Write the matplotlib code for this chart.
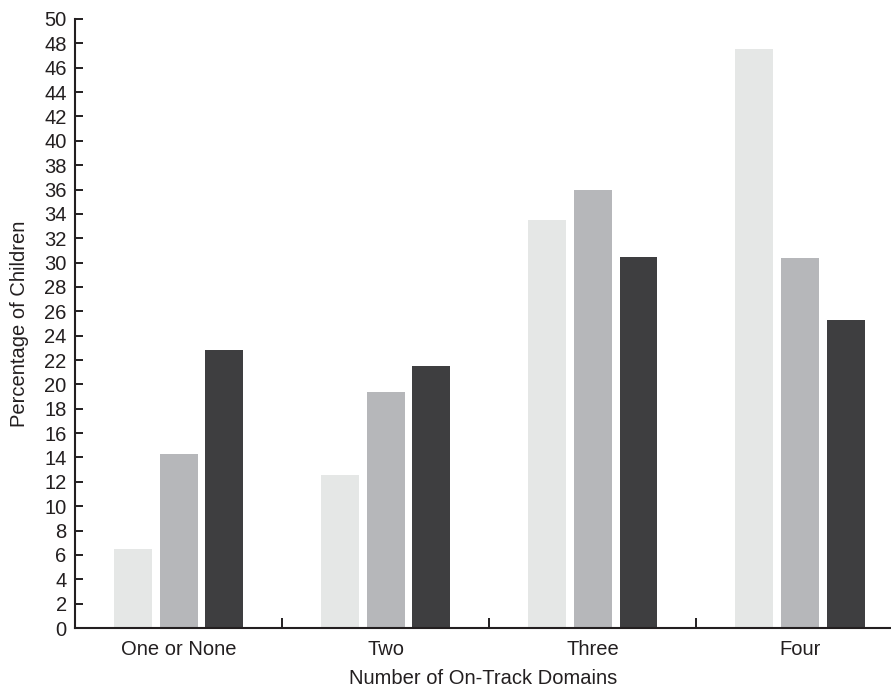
import matplotlib
matplotlib.use("Agg")
import matplotlib.pyplot as plt
import numpy as np

plt.rcParams['font.family'] = ['Liberation Sans', 'DejaVu Sans']

categories = ['One or None', 'Two', 'Three', 'Four']
series_a = [6.5, 12.6, 33.5, 47.5]
series_b = [14.3, 19.4, 36.0, 30.4]
series_c = [22.8, 21.5, 30.5, 25.3]
y_ticks = list(range(0, 51, 2))

colors = ['#e5e7e6', '#b6b7ba', '#3e3e40']
text_color = '#231f20'
fs = 14.5

fig = plt.figure(figsize=(8.91, 6.88), dpi=100)
ax = fig.add_axes([0.0842, 0.0872, 0.9158, 0.8852])

x = np.arange(len(categories))
width = 0.183
step = 0.221
for i, (vals, col) in enumerate(zip([series_a, series_b, series_c], colors)):
    ax.bar(x + (i - 1) * step, vals, width, color=col, linewidth=0)

ax.set_xlim(-0.5, 3.44)
ax.set_ylim(0, 50)
ax.set_yticks(y_ticks)
ax.set_yticklabels([str(t) for t in y_ticks], fontsize=fs, color=text_color)

# category labels at group centres, tick marks between groups
ax.set_xticks(x)
ax.set_xticklabels(categories, fontsize=fs, color=text_color)
ax.tick_params(axis='x', which='major', length=0, pad=8.5)
ax.set_xticks(x[:-1] + 0.5, minor=True)
ax.tick_params(axis='x', which='minor', direction='in', length=7,
               width=1.4, color=text_color)
ax.tick_params(axis='y', direction='in', length=6, width=1.4,
               color=text_color, pad=6)

for side in ['top', 'right']:
    ax.spines[side].set_visible(False)
for side in ['left', 'bottom']:
    ax.spines[side].set_linewidth(1.5)
    ax.spines[side].set_color(text_color)

ax.set_xlabel('Number of On-Track Domains', fontsize=fs, color=text_color, labelpad=7)
ax.set_ylabel('Percentage of Children', fontsize=fs, color=text_color, labelpad=11)

fig.savefig('out.png', dpi=100)
